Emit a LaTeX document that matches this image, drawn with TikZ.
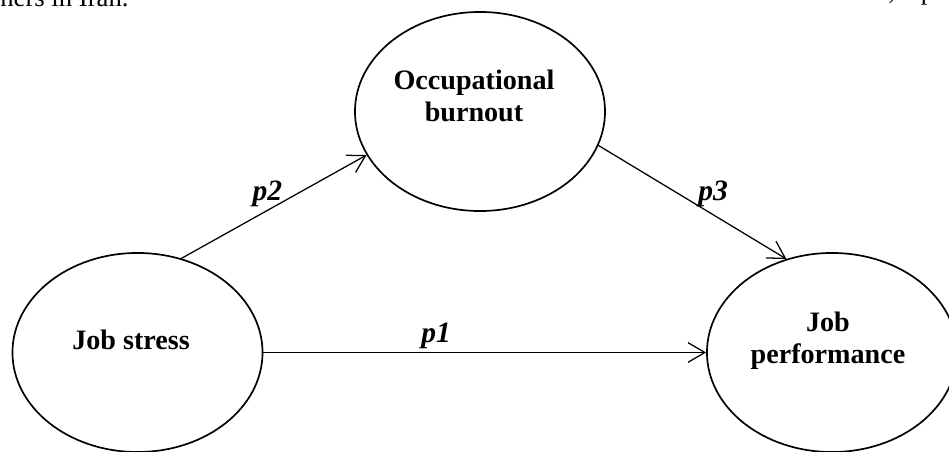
\documentclass[tikz,border=0pt]{standalone}
\usepackage{fontspec}
\setmainfont{Liberation Serif}
\usepackage{tikz}
\usetikzlibrary{arrows.meta,positioning,shapes.geometric}
\tikzset{
  construct/.style={ellipse,draw=black,line width=1.2pt,minimum width=6.25cm,
                    minimum height=4.975cm,inner sep=0pt},
  constxt/.style={font=\fontsize{20}{23}\selectfont\bfseries,align=center,inner sep=0pt},
  link/.style={-{Straight Barb[length=12pt,width=14pt]},draw=black,line width=.9pt},
  coef/.style={font=\fontsize{21}{24}\selectfont\bfseries\itshape,above,inner sep=2pt},
  cuttxt/.style={font=\fontsize{19}{22}\selectfont,inner sep=0pt,anchor=base west},
}
\begin{document}
\begin{tikzpicture}[x=0.025cm,y=-0.025cm]
  \useasboundingbox[fill=white] (0,0) rectangle (949,452);
  % text cut off at the top edge
  \node[cuttxt] (cutleft) at (0,7) {ners in Iran.};
  \node[cuttxt] (cutright) at (888,0) {,\hspace{0.65cm}p};
  % constructs
  \node[construct] (burnout) at (480,111.5) {};
  \node[construct] (stress) at (137.5,352.5) {};
  \node[construct] (perf) at (832,352.5) {};
  \node[constxt] (burnouttxt) at (474,96) {Occupational\\burnout};
  \node[constxt] (stresstxt) at (131,340) {Job stress};
  \node[constxt] (perftxt) at (828,341) {Job\\performance};
  % paths
  \draw[link] (stress.east) to node[coef,pos=.39] (p1) {p1} (perf.west);
  \draw[link] (stress.65.8) to node[coef,pos=.465] (p2) {p2} (burnout.201.9);
  \draw[link] (burnout.-16) to node[coef,pos=.61,yshift=3pt] (p3) {p3} (perf.116.4);
\end{tikzpicture}
\end{document}
